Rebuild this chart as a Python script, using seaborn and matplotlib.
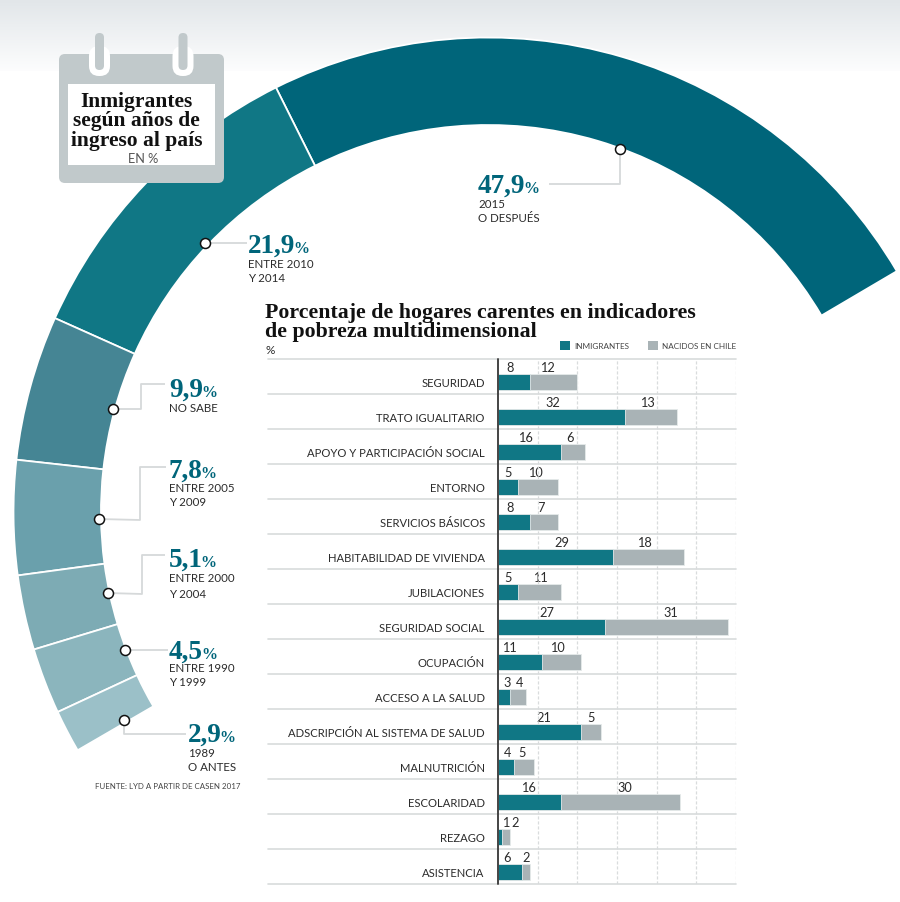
import numpy as np
import pandas as pd
import matplotlib
matplotlib.use("Agg")
import matplotlib.pyplot as plt
from matplotlib.patches import FancyBboxPatch, Rectangle, Patch
import seaborn as sns

# ---------- data ----------
arc_values = [47.9, 21.9, 9.9, 7.8, 5.1, 4.5, 2.9]
arc_labels = ["47,9", "21,9", "9,9", "7,8", "5,1", "4,5", "2,9"]
arc_periods = [["2015", "O DESPUÉS"], ["ENTRE 2010", "Y 2014"], ["NO SABE"],
               ["ENTRE 2005", "Y 2009"], ["ENTRE 2000", "Y 2004"],
               ["ENTRE 1990", "Y 1999"], ["1989", "O ANTES"]]
indicators = ["SEGURIDAD", "TRATO IGUALITARIO", "APOYO Y PARTICIPACIÓN SOCIAL", "ENTORNO",
              "SERVICIOS BÁSICOS", "HABITABILIDAD DE VIVIENDA", "JUBILACIONES",
              "SEGURIDAD SOCIAL", "OCUPACIÓN", "ACCESO A LA SALUD",
              "ADSCRIPCIÓN AL SISTEMA DE SALUD", "MALNUTRICIÓN", "ESCOLARIDAD",
              "REZAGO", "ASISTENCIA"]
inmigrantes = [8, 32, 16, 5, 8, 29, 5, 27, 11, 3, 21, 4, 16, 1, 6]
nacidos = [12, 13, 6, 10, 7, 18, 11, 31, 10, 4, 5, 5, 30, 2, 2]

# ---------- styles ----------
arc_colors = ["#00657a", "#107785", "#458594", "#6aa0ac", "#7dabb4", "#8bb5bd", "#9bc0c8"]
TEAL, GREY = "#107785", "#a9b3b6"
NUM = "#00657a"
TXT = "#2b2b2b"
RULE = "#d8dbdc"
SANS = ["Lato", "DejaVu Sans"]
SERIF = ["Liberation Serif", "DejaVu Serif"]

sns.set_theme(style="white")
W, H = 900, 903
fig = plt.figure(figsize=(W / 100, H / 100), dpi=100, facecolor="white")
ax = fig.add_axes([0, 0, 1, 1])


def Y(py):
    return H - py


# donut: the hundred per cent fills a half ring, very slightly under 180 degrees
ax.pie([v / 200 * 0.998 for v in arc_values], colors=arc_colors, startangle=30.5, counterclock=True,
       normalize=False, center=(488, Y(513)), radius=474.5,
       wedgeprops=dict(width=87.5, edgecolor="white", linewidth=1.3))
ax.set_xlim(0, W)
ax.set_ylim(0, H)
ax.set_aspect("equal")
ax.axis("off")

# top gradient
grad = np.linspace(0, 1, 72)[:, None]
cols = np.zeros((72, 1, 3))
c0, c1 = np.array([0.885, 0.902, 0.914]), np.array([0.99, 0.992, 0.994])
cols[:, 0, :] = c0 + (c1 - c0) * grad
ax.imshow(cols, extent=(0, W, Y(72), Y(0)), aspect="auto", zorder=0)
ax.set_xlim(0, W)
ax.set_ylim(0, H)

# calendar
CAL = "#c1c9cb"
ax.add_patch(FancyBboxPatch((59, Y(184)), 165, 129, boxstyle="round,pad=0,rounding_size=6",
                            fc=CAL, ec="none", zorder=5))
for cx in (99.5, 183):
    ax.add_patch(FancyBboxPatch((cx - 10.5, Y(77)), 21, 30, boxstyle="round,pad=0,rounding_size=10",
                                fc="white", ec="none", zorder=6))
    ax.add_patch(FancyBboxPatch((cx - 4.5, Y(71)), 9, 37, boxstyle="round,pad=0,rounding_size=4.5",
                                fc=CAL, ec="none", zorder=7))
ax.add_patch(Rectangle((68, Y(166)), 147, 81, fc="white", ec="none", zorder=8))
for txt, py in zip(["Inmigrantes", "según años de", "ingreso al país"], [102, 121, 141]):
    ax.text(136.5, Y(py), txt, family=SERIF, fontweight="bold", fontsize=15.5, color="#111111",
            ha="center", va="center", zorder=9)
ax.text(143, Y(159), "EN %", family=SANS, fontsize=9.2, color="#555555", ha="center", va="center", zorder=9)

# leaders and labels (positions in pixels)
leaders = [[(620, 150), (620, 185), (549, 185)],
           [(205, 244), (247, 244)],
           [(113, 410), (141, 410), (141, 385), (165, 385)],
           [(99, 520), (140, 521), (140, 468), (166, 468)],
           [(108, 594), (142, 595), (142, 556), (165, 556)],
           [(125, 651), (168, 651)],
           [(124, 721), (124, 735), (186, 735)]]
label_x = [478, 248, 169, 169, 169, 169, 188]
label_base = [193, 253, 397, 478, 567, 659, 742]
period_y = [[205, 219], [265, 279], [408], [489, 503], [578, 595], [669, 683], [754, 768]]

for pts, lab, periods, lx, base, pys in zip(leaders, arc_labels, arc_periods, label_x, label_base, period_y):
    xs = [p[0] for p in pts]
    ys = [Y(p[1]) for p in pts]
    ax.plot(xs, ys, color="#d6d9da", lw=1.3, zorder=3, solid_capstyle="butt")
    ax.plot(xs[0], ys[0], "o", ms=7.2, mfc="white", mec="#111111", mew=1.1, zorder=4)
    t = ax.text(lx, Y(base), lab, family=SERIF, fontweight="bold", fontsize=19.6, color=NUM, ha="left", va="baseline")
    ax.annotate("%", xy=(1, 0), xycoords=t, xytext=(-1.5, 1.5), textcoords="offset points", family=SERIF,
                fontweight="bold", fontsize=11.5, color=NUM, ha="left", va="bottom")
    for p, py in zip(periods, pys):
        ax.text(lx, Y(py), p, family=SANS, fontsize=8.3, color=TXT, ha="left", va="center")

ax.text(95, Y(787), "FUENTE: LYD A PARTIR DE CASEN 2017", family=SANS, fontsize=5.7, color="#444444",
        ha="left", va="center")

# bar panel title
ax.text(265, Y(318), "Porcentaje de hogares carentes en indicadores", family=SERIF, fontweight="bold",
        fontsize=15.75, color="#111111", ha="left", va="baseline")
ax.text(265, Y(337), "de pobreza multidimensional", family=SERIF, fontweight="bold",
        fontsize=15.75, color="#111111", ha="left", va="baseline")
ax.text(266, Y(350), "%", family=SANS, fontsize=8.5, color=TXT, ha="left", va="center")

# bars
x0, x1, y_top, y_bot = 498, 736, 360, 885
bx = fig.add_axes([x0 / W, 1 - y_bot / H, (x1 - x0) / W, (y_bot - y_top) / H])
df = pd.DataFrame({"indicador": indicators, "inm": inmigrantes, "nac": nacidos})
df["total"] = df["inm"] + df["nac"]
sns.barplot(data=df, y="indicador", x="total", color=GREY, width=0.46, saturation=1, ax=bx,
            edgecolor="#e6eaea", linewidth=0.6, zorder=3)
sns.barplot(data=df, y="indicador", x="inm", color=TEAL, width=0.46, saturation=1, ax=bx,
            edgecolor="#e6eaea", linewidth=0.6, zorder=4)
off = 0.157
bx.set_xlim(0, 60)
bx.set_ylim(len(df) - 0.5 - off, -0.5 - off)
bx.set_xlabel("")
bx.set_ylabel("")
bx.set_xticks([])
bx.tick_params(axis="y", length=0, pad=9.5)
for lab in bx.get_yticklabels():
    lab.set_family(SANS)
    lab.set_fontsize(8.1)
    lab.set_color(TXT)
bx.patch.set_alpha(0)
for s in bx.spines.values():
    s.set_visible(False)
for g in range(10, 61, 10):
    bx.axvline(g, color="#d9dcdd", lw=0.9, ls=(0, (2.5, 1.5)), zorder=1)
bx.axvline(0, color="#444444", lw=1.4, zorder=5, clip_on=False)
for i in range(len(df) + 1):
    bx.axhline(i - 0.5 - off, xmin=-230 / 238, xmax=1, color=RULE, lw=1.2, zorder=2, clip_on=False)

# value-label horizontal positions, in pixels, as placed by hand in the original
inm_label_x = [510, 553, 525, 508, 510, 562, 508, 547, 509, 507, 544, 508, 528, 506, 507]
nac_label_x = [547, 647, 570, 535, 541, 644, 540, 671, 557, 520, 591, 522, 625, 515, 526]
for i, (a, b, xa, xb) in enumerate(zip(inmigrantes, nacidos, inm_label_x, nac_label_x)):
    for v, px in ((a, xa), (b, xb)):
        ax.text(px, Y(368 + 35 * i), str(v), ha="center", va="center", family=SANS, fontsize=9.2, color=TXT, zorder=6)

fig.legend(handles=[Patch(fc=TEAL, ec="none", label="INMIGRANTES"), Patch(fc=GREY, ec="none", label="NACIDOS EN CHILE")],
           loc="center right", bbox_to_anchor=(736 / W, 1 - 346.5 / H), ncol=2, frameon=False, handlelength=1.22,
           handleheight=1.22, handletextpad=0.5, columnspacing=2.3, borderpad=0, borderaxespad=0,
           prop=dict(family=SANS, size=5.9), labelcolor="#444444")

fig.savefig("out.png", dpi=100, facecolor="white")
